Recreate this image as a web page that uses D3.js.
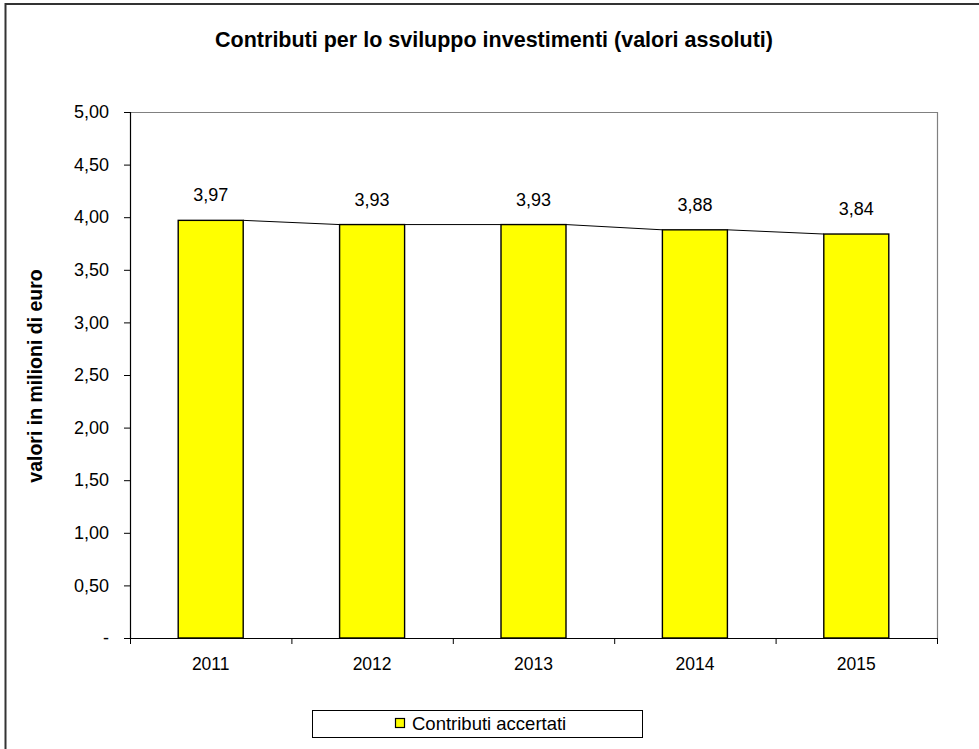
<!DOCTYPE html>
<html><head><meta charset="utf-8">
<script src="https://cdn.jsdelivr.net/npm/d3@7"></script>
<style>body{margin:0;background:#fff;}svg{display:block;font-family:"Liberation Sans",Arial,sans-serif;}</style>
</head><body>
<svg id="c" width="979" height="749"></svg>
<script>
const categories = ["2011","2012","2013","2014","2015"];
const values = [3.97, 3.93, 3.93, 3.88, 3.84];
const valueLabels = ["3,97","3,93","3,93","3,88","3,84"];
const yTicks = [0,0.5,1,1.5,2,2.5,3,3.5,4,4.5,5];
const yTickLabels = ["-","0,50","1,00","1,50","2,00","2,50","3,00","3,50","4,00","4,50","5,00"];
const title = "Contributi per lo sviluppo investimenti (valori assoluti)";
const yTitle = "valori in milioni di euro";
const legendLabel = "Contributi accertati";

const FF = "Liberation Sans, Arial, sans-serif";
const svg = d3.select("#c");
// outer chart border (extends beyond right/bottom)
svg.append("rect").attr("x",5.5).attr("y",4).attr("width",1000).attr("height",800)
  .attr("fill","#fff").attr("stroke","#333").attr("stroke-width",2);

const L=130, R=937, T=112, B=638;
const x = d3.scaleBand().domain(categories).range([L,R]).paddingInner(0).paddingOuter(0);
const y = d3.scaleLinear().domain([0,5]).range([B,T]);
const barW = 65;

// plot area border (top/right gray)
svg.append("path").attr("d",`M${L},${T+0.5}H${R+0.5}V${B}`).attr("fill","none").attr("stroke","#808080").attr("stroke-width",1.2);

// bars
const bx = d => x(d) + x.bandwidth()/2 - barW/2;
svg.selectAll(".bar").data(categories).join("rect")
  .attr("x",d=>bx(d)).attr("y",(d,i)=>y(values[i])).attr("width",barW).attr("height",(d,i)=>B-y(values[i]))
  .attr("fill","#ffff00").attr("stroke","#000").attr("stroke-width",1.4);

// series lines
for(let i=0;i<categories.length-1;i++){
  svg.append("line").attr("x1",bx(categories[i])+barW).attr("y1",y(values[i]))
    .attr("x2",bx(categories[i+1])).attr("y2",y(values[i+1])).attr("stroke","#000").attr("stroke-width",1);
}

// data labels
svg.selectAll(".lbl").data(categories).join("text")
  .attr("x",d=>x(d)+x.bandwidth()/2).attr("y",(d,i)=>y(values[i])-19)
  .attr("text-anchor","middle").attr("font-size",18).attr("fill","#000")
  .text((d,i)=>valueLabels[i]);

// y axis
const yAxis = d3.axisLeft(y).tickValues(yTicks).tickSize(6).tickPadding(15)
  .tickFormat((d,i)=>yTickLabels[i]);
const gy = svg.append("g").attr("transform",`translate(${L},0)`).call(yAxis);
gy.select(".domain").attr("stroke","#000").attr("stroke-width",1.2);
gy.selectAll(".tick line").attr("stroke","#000");
gy.selectAll(".tick text").attr("font-size",18).attr("fill","#000").attr("font-family",FF);

// x axis
const gx = svg.append("g").attr("transform",`translate(0,${B})`).call(d3.axisBottom(x).tickSize(0).tickPadding(20));
gx.select(".domain").attr("d",`M${L},0.5H${R}`).attr("stroke","#000").attr("stroke-width",1.2);
gx.selectAll(".tick text").attr("font-size",17.5).attr("fill","#000").attr("font-family",FF);
// category boundary ticks
const bounds = categories.map(c=>x(c)).concat([R]);
svg.selectAll(".xt").data(bounds).join("line")
  .attr("x1",d=>d+0.5).attr("x2",d=>d+0.5).attr("y1",B).attr("y2",B+6).attr("stroke","#000");

// title
svg.append("text").attr("x",494).attr("y",47).attr("text-anchor","middle")
  .attr("font-size",21.5).attr("font-weight","bold").text(title);

// y title
svg.append("text").attr("transform",`translate(42,376) rotate(-90)`).attr("text-anchor","middle")
  .attr("font-size",19.5).attr("font-weight","bold").text(yTitle);

// legend
svg.append("rect").attr("x",312.5).attr("y",710.5).attr("width",330).attr("height",27)
  .attr("fill","#fff").attr("stroke","#000").attr("stroke-width",1);
svg.append("rect").attr("x",395.5).attr("y",718.5).attr("width",9).attr("height",9)
  .attr("fill","#ffff00").attr("stroke","#000").attr("stroke-width",1.2);
svg.append("text").attr("x",412).attr("y",730).attr("font-size",18.5).text(legendLabel);
</script>
</body></html>
